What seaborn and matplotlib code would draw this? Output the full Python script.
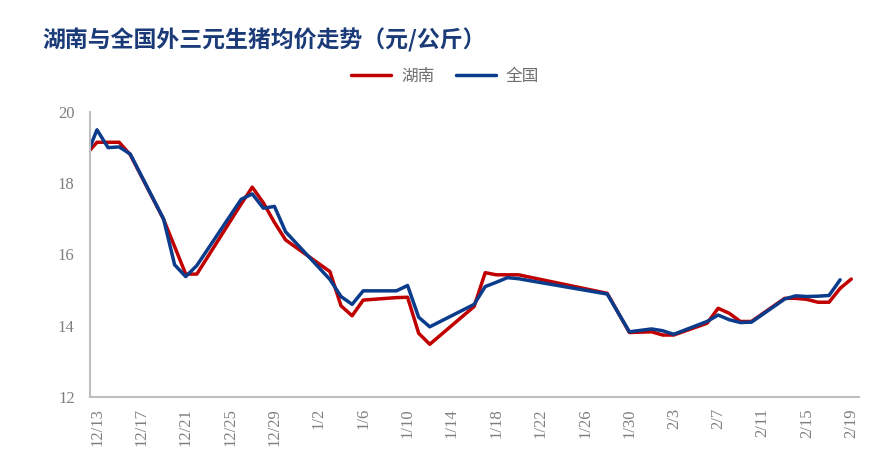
import pandas as pd
import seaborn as sns
import matplotlib.pyplot as plt

# ==========================================
# DATA
# ==========================================

dates = [
    "2021-12-12", "2021-12-13", "2021-12-14", "2021-12-15", "2021-12-16",
    "2021-12-19", "2021-12-20", "2021-12-21", "2021-12-22", "2021-12-26",
    "2021-12-27", "2021-12-28", "2021-12-29", "2021-12-30", "2022-01-03",
    "2022-01-04", "2022-01-05", "2022-01-06", "2022-01-09", "2022-01-10",
    "2022-01-11", "2022-01-12", "2022-01-16", "2022-01-17", "2022-01-18",
    "2022-01-19", "2022-01-20", "2022-01-28", "2022-01-30", "2022-02-01",
    "2022-02-02", "2022-02-03", "2022-02-06", "2022-02-07", "2022-02-08",
    "2022-02-09", "2022-02-10", "2022-02-13", "2022-02-14", "2022-02-15",
    "2022-02-16", "2022-02-17", "2022-02-18", "2022-02-19",
]

hunan = [
    18.80, 19.15, 19.15, 19.15, 18.80,
    16.99, 16.22, 15.45, 15.45, 17.42,
    17.89, 17.45, 16.90, 16.41, 15.52,
    14.56, 14.28, 14.72, 14.79, 14.80,
    13.79, 13.48, 14.54, 15.49, 15.43,
    15.43, 15.43, 14.91, 13.81, 13.83,
    13.74, 13.74, 14.07, 14.49, 14.35,
    14.12, 14.12, 14.77, 14.77, 14.74,
    14.66, 14.66, 15.05, 15.31,
]

national = [
    18.73, 19.50, 19.00, 19.02, 18.82,
    17.00, 15.71, 15.38, 15.69, 17.55,
    17.70, 17.30, 17.35, 16.64, 15.30,
    14.82, 14.60, 14.98, 14.98, 15.13,
    14.24, 13.97, 14.60, 15.10, 15.22,
    15.35, 15.32, 14.89, 13.83, 13.91,
    13.86, 13.76, 14.12, 14.30, 14.17,
    14.09, 14.10, 14.75, 14.84, 14.82,
    14.83, 14.85, 15.29, None,
]

tick_labels = [
    "12/13", "12/17", "12/21", "12/25", "12/29", "1/2", "1/6", "1/10",
    "1/14", "1/18", "1/22", "1/26", "1/30", "2/3", "2/7", "2/11",
    "2/15", "2/19",
]

series_names = ["湖南", "全国"]
colors = {"湖南": "#C00000", "全国": "#0B3C8C"}

# ==========================================
# PREPARE
# ==========================================

df = pd.DataFrame({
    "date": pd.to_datetime(dates),
    "湖南": hunan,
    "全国": national,
})

start = pd.Timestamp("2021-12-13")
df["day"] = (df["date"] - start).dt.days

long_df = df.melt(
    id_vars=["date", "day"],
    value_vars=series_names,
    var_name="region",
    value_name="price",
).dropna()

# ==========================================
# PLOT
# ==========================================

sns.set_style("white")
plt.rcParams["font.family"] = ["Liberation Serif", "Noto Sans CJK SC"]

fig = plt.figure(figsize=(8.86, 4.63), dpi=100)
ax = fig.add_axes([90 / 886, 66 / 463, (859 - 90) / 886, 285 / 463])

sns.lineplot(
    data=long_df,
    x="day",
    y="price",
    hue="region",
    hue_order=series_names,
    palette=colors,
    linewidth=2.5,
    ax=ax,
)

ax.set_xlim(-0.63, 68.7)
ax.set_ylim(12, 20)
ax.set_xlabel("")
ax.set_ylabel("")

# tick marks at slot edges, labels centred on the dates
n_ticks = len(tick_labels)
ax.set_xticks([-0.63 + 4 * i for i in range(n_ticks)])
ax.set_xticklabels([])
ax.set_xticks([4 * i for i in range(n_ticks)], minor=True)
ax.set_xticklabels(tick_labels, minor=True, rotation=90)

ax.set_yticks([12, 14, 16, 18, 20])

ax.tick_params(
    axis="x", which="major", direction="out", length=5,
    width=1.2, color="#BFBFBF"
)
ax.tick_params(
    axis="x", which="minor", length=0, pad=8,
    labelsize=12, labelcolor="#7F7F7F"
)
ax.tick_params(
    axis="y", direction="out", length=5, width=1.2,
    color="#BFBFBF", labelsize=12, labelcolor="#7F7F7F", pad=6
)

for side in ["top", "right"]:
    ax.spines[side].set_visible(False)
for side in ["left", "bottom"]:
    ax.spines[side].set_color("#BFBFBF")
    ax.spines[side].set_linewidth(1.5)

# ==========================================
# TITLE & LEGEND
# ==========================================

fig.text(
    42 / 886, 1 - 40 / 463,
    "湖南与全国外三元生猪均价走势（元/公斤）",
    fontsize=16.5,
    fontweight="bold",
    color="#1A3A78",
    va="center",
    family=["Noto Sans CJK SC", "DejaVu Sans"],
)

handles, labels = ax.get_legend_handles_labels()
ax.legend(
    handles,
    labels,
    loc="center",
    bbox_to_anchor=(445 / 886, 1 - 76 / 463),
    bbox_transform=fig.transFigure,
    ncol=2,
    frameon=False,
    handlelength=2.4,
    handletextpad=0.6,
    columnspacing=1.3,
    prop={"family": ["Noto Sans CJK SC"], "size": 12},
    labelcolor="#6F6F6F",
)

plt.savefig("out.png", dpi=100)
